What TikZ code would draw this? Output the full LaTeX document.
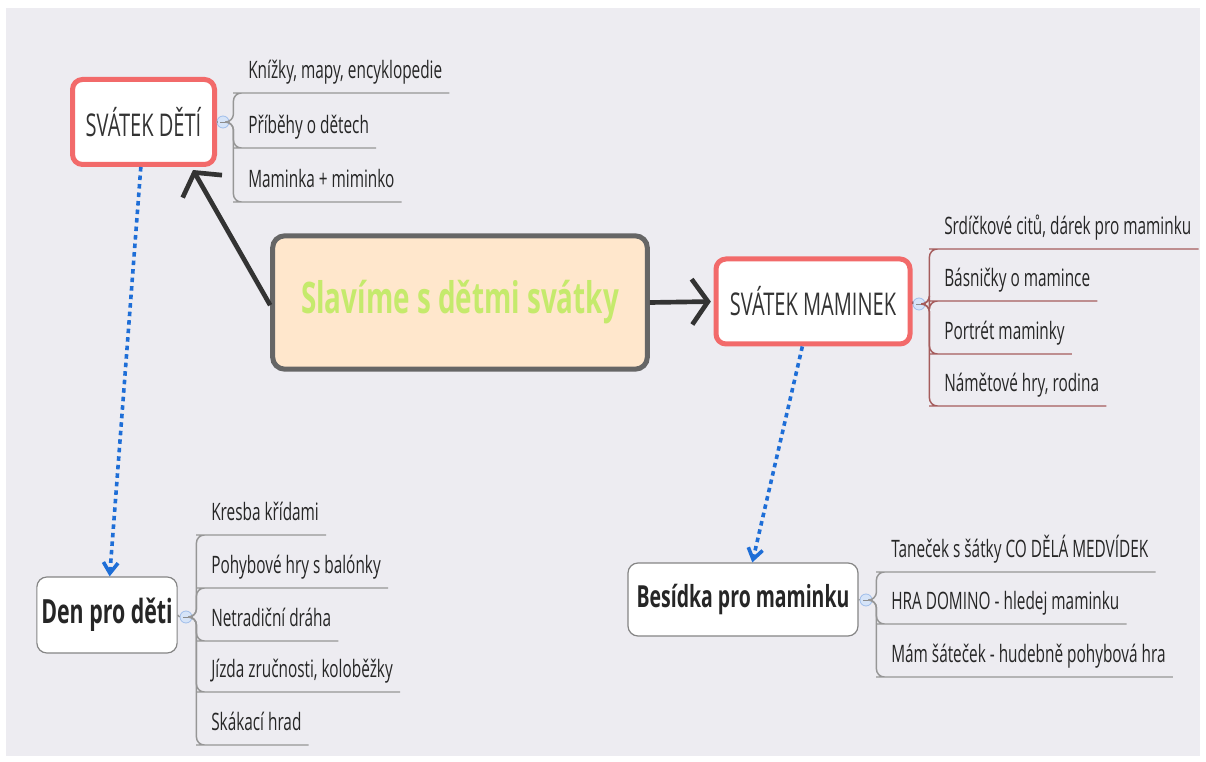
\documentclass[tikz,border=0pt]{standalone}
\usepackage{fontspec}
\setmainfont{Open Sans}[FakeStretch=0.64]
\usepackage{tikz}
\usetikzlibrary{arrows.meta,calc}

\definecolor{canvas}{RGB}{237,236,241}
\definecolor{hubfill}{RGB}{255,231,204}
\definecolor{hubline}{RGB}{102,102,102}
\definecolor{hubtext}{RGB}{197,234,108}
\definecolor{topicred}{RGB}{242,106,106}
\definecolor{arrowdark}{RGB}{51,51,51}
\definecolor{linkblue}{RGB}{30,110,215}
\definecolor{branchgrey}{RGB}{150,150,150}
\definecolor{branchred}{RGB}{165,92,92}
\definecolor{knobfill}{RGB}{214,228,248}
\definecolor{knobline}{RGB}{160,190,235}

\begin{document}
\begin{tikzpicture}[x=0.75pt,y=-0.75pt,
    hub/.style={draw=hubline, line width=3.75pt, fill=hubfill, rounded corners=9pt,
      minimum width=281pt, minimum height=100pt, text=hubtext,
      font=\fontsize{32.6}{36}\selectfont\bfseries},
    topic/.style={draw=topicred, line width=3.75pt, fill=white, rounded corners=7.5pt,
      minimum height=63.75pt, text=arrowdark, font=\fontsize{23.5}{26}\selectfont},
    plain/.style={draw=hubline!80, line width=0.9pt, fill=white, rounded corners=7.5pt,
      text=black!85, font=\fontsize{25}{28}\selectfont\bfseries},
    leaf/.style={anchor=south west, inner xsep=5.25pt, inner ysep=0pt, text depth=11pt,
      text=black!85, font=\fontsize{18}{20}\selectfont},
    knob/.style={circle, fill=knobfill, draw=knobline, line width=0.6pt, inner sep=0pt,
      minimum size=9pt, path picture={\draw[black!45, line width=0.5pt]
        ([xshift=-2.2pt]path picture bounding box.center) -- ([xshift=2.2pt]path picture bounding box.center);}},
    branch/.style={draw=branchgrey, line width=1.1pt, rounded corners=6pt},
    mainarrow/.style={draw=arrowdark, line width=3.5pt, -{Straight Barb[length=12pt,width=34pt]}},
    linkarrow/.style={draw=linkblue, line width=2.7pt, dash pattern=on 3.4pt off 3pt,
      -{Straight Barb[length=8pt,width=11pt]}}]

\useasboundingbox (0,0) rectangle (1206,762);
\fill[canvas] (6,8) rectangle (1200,756);

% main topic and the two holidays
\node[hub] (hub) at (460,302.5) {Slavíme s dětmi svátky};
\node[topic, minimum width=106.5pt] (deti) at (143.5,122) {SVÁTEK DĚTÍ};
\node[topic, minimum width=145.5pt] (maminky) at (813,301.5) {SVÁTEK MAMINEK};
\node[plain, minimum width=105pt, minimum height=57pt] (den) at (107,615) {Den pro děti};
\node[plain, minimum width=172.5pt, minimum height=54.75pt, font=\fontsize{22.8}{26}\selectfont\bfseries]
  (besidka) at (743,599.5) {Besídka pro maminku};

\draw[mainarrow] ([yshift=-2pt]hub.west) -- ($(deti.south east)+(-24,3)$);
\draw[mainarrow, shorten >=2pt] (hub.east) -- (maminky.west);
\draw[linkarrow] ([xshift=-2pt]deti.south) -- ([xshift=2pt]den.north);
\draw[linkarrow] ([xshift=-8pt]maminky.south) -- ([xshift=7pt]besidka.north);

% SVATEK DETI
\node[knob] (k1) at (223,122) {};
\node[leaf] (d1) at (241,93) {Knížky, mapy, encyklopedie};
\node[leaf] (d2) at (241,148) {Příběhy o dětech};
\node[leaf] (d3) at (241,202) {Maminka + miminko};
\draw[branch] (deti.east) -- (k1.west);
\foreach \c in {d1,d2,d3}
  \draw[branch] (k1.east) -- ++(4,0) |- (\c.south west) -- (\c.south east);

% SVATEK MAMINEK
\node[knob] (k2) at (919,304) {};
\node[leaf] (m1) at (937,249) {Srdíčkové citů, dárek pro maminku};
\node[leaf] (m2) at (937,301) {Básničky o mamince};
\node[leaf] (m3) at (937,354) {Portrét maminky};
\node[leaf] (m4) at (937,406) {Námětové hry, rodina};
\draw[branch, draw=branchred] (maminky.east) -- (k2.west);
\foreach \c in {m1,m2,m3,m4}
  \draw[branch, draw=branchred] (k2.east) -- ++(4,0) |- (\c.south west) -- (\c.south east);

% Den pro deti
\node[knob] (k3) at (186,617) {};
\node[leaf] (p1) at (204,535) {Kresba křídami};
\node[leaf] (p2) at (204,588) {Pohybové hry s balónky};
\node[leaf] (p3) at (204,641) {Netradiční dráha};
\node[leaf] (p4) at (204,692) {Jízda zručnosti, koloběžky};
\node[leaf] (p5) at (204,745) {Skákací hrad};
\draw[branch] (den.east) -- (k3.west);
\foreach \c in {p1,p2,p3,p4,p5}
  \draw[branch] (k3.east) -- ++(4,0) |- (\c.south west) -- (\c.south east);

% Besidka
\node[knob] (k4) at (866,600) {};
\node[leaf] (b1) at (884,572) {Taneček s šátky CO DĚLÁ MEDVÍDEK};
\node[leaf] (b2) at (884,624) {HRA DOMINO - hledej maminku};
\node[leaf] (b3) at (884,677) {Mám šáteček - hudebně pohybová hra};
\draw[branch] (besidka.east) -- (k4.west);
\foreach \c in {b1,b2,b3}
  \draw[branch] (k4.east) -- ++(4,0) |- (\c.south west) -- (\c.south east);
\end{tikzpicture}
\end{document}
